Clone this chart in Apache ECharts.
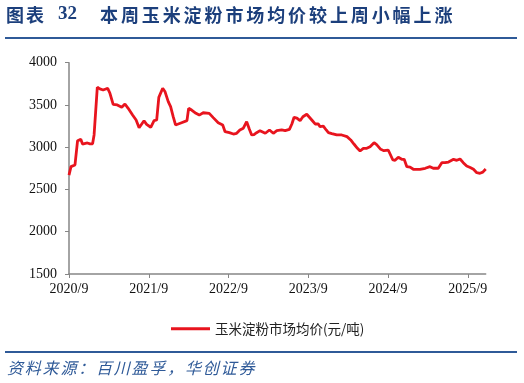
<!DOCTYPE html>
<html><head><meta charset="utf-8">
<script src="https://cdn.jsdelivr.net/npm/echarts@6/dist/echarts.min.js"></script>
<style>html,body{margin:0;padding:0;background:#fff}#c{width:524px;height:383px}</style>
</head><body><div id="c"></div>
<script>
const seriesName = '玉米淀粉市场均价(元/吨)';
const dates = [
'2020-09-01','2020-09-10','2020-09-28','2020-10-03','2020-10-10','2020-10-16','2020-10-25','2020-11-02','2020-11-24','2020-12-06',
'2020-12-18','2020-12-25','2021-01-09','2021-01-21','2021-02-05','2021-02-24','2021-03-06','2021-03-21','2021-04-09','2021-04-29',
'2021-05-14','2021-05-29','2021-06-18','2021-07-04','2021-07-18','2021-07-25','2021-08-10','2021-08-22','2021-09-10','2021-09-25',
'2021-10-07','2021-10-17','2021-10-25','2021-11-04','2021-11-14','2021-11-29','2021-12-10','2021-12-22','2022-01-02','2022-01-30',
'2022-02-22','2022-03-01','2022-03-15','2022-04-04','2022-04-19','2022-05-07','2022-06-04','2022-06-22','2022-07-15','2022-08-05',
'2022-08-16','2022-09-05','2022-09-23','2022-10-08','2022-10-23','2022-11-08','2022-11-23','2022-12-05','2022-12-16','2022-12-27',
'2023-01-08','2023-01-24','2023-02-16','2023-03-06','2023-03-24','2023-04-09','2023-05-01','2023-05-17','2023-06-06','2023-06-17',
'2023-06-27','2023-07-10','2023-07-25','2023-08-07','2023-08-25','2023-09-02','2023-09-17','2023-10-02','2023-10-17','2023-10-25',
'2023-11-09','2023-11-22','2023-12-02','2023-12-18','2024-01-10','2024-02-02','2024-02-25','2024-03-13','2024-03-28','2024-04-13',
'2024-04-25','2024-05-10','2024-05-26','2024-06-10','2024-06-28','2024-07-10','2024-07-29','2024-08-13','2024-09-02','2024-09-23',
'2024-10-03','2024-10-18','2024-11-03','2024-11-14','2024-11-26','2024-12-11','2024-12-26','2025-01-26','2025-02-18','2025-03-11',
'2025-03-26','2025-04-18','2025-05-04','2025-05-19','2025-06-04','2025-06-27','2025-07-12','2025-07-27','2025-08-11','2025-08-27',
'2025-09-12','2025-09-27','2025-10-12','2025-10-27','2025-11-09','2025-11-22'
];
const prices = [
2670,2770,2790,2810,3077,3065,3094,3038,3050,3040,
3040,3145,3709,3690,3677,3697,3638,3508,3500,3472,
3511,3460,3381,3322,3231,3235,3314,3270,3236,3314,
3322,3590,3580,3697,3660,3540,3480,3361,3263,3290,
3314,3460,3440,3401,3380,3408,3400,3350,3290,3263,
3184,3172,3156,3165,3204,3225,3302,3216,3145,3150,
3172,3196,3165,3204,3165,3196,3204,3196,3212,3275,
3354,3345,3314,3361,3390,3380,3322,3275,3275,3243,
3250,3204,3172,3160,3145,3145,3125,3086,3038,2987,
2955,2987,2987,3006,3054,3030,2975,2959,2967,2849,
2845,2881,2857,2857,2770,2765,2739,2739,2751,2770,
2751,2751,2817,2817,2825,2857,2845,2861,2817,2778,
2760,2739,2699,2692,2705,2743
];
const xTickLabels = ['2020/9','2021/9','2022/9','2023/9','2024/9','2025/9'];
const yTicks = [1500,2000,2500,3000,3500,4000];
const titleMain = '本周玉米淀粉市场均价较上周小幅上涨';
const sourceText = '资料来源：百川盈孚，华创证券';

function monthOffset(s){
  const [Y,M,D] = s.split('-').map(Number);
  const dim = new Date(Y, M, 0).getDate();
  return (Y-2020)*12 + (M-9) + (D-1)/dim;
}
const seriesData = dates.map((d,i)=>[monthOffset(d), prices[i]]);
const xTickVals = xTickLabels.map((_,i)=>i*12);

function spacedText(str, x0, top, advance, font, fill){
  return str.split('').map((ch,i)=>({type:'text', left:x0+i*advance, top:top, style:{text:ch, font:font, fill:fill}}));
}

const chart = echarts.init(document.getElementById('c'), null, {renderer:'canvas'});
const axisColor = '#868686';
const labelFont = {fontFamily:'Liberation Serif', fontSize:14, color:'#111'};
const titleColor = '#1C3F7C';
const blue = '#2F5A98';
chart.setOption({
  animation:false,
  backgroundColor:'#fff',
  grid:{left:69, right:38.3, top:62.7, bottom:109, containLabel:false},
  xAxis:{
    type:'value', min:0, max:seriesData[seriesData.length-1][0],
    axisLine:{show:true, lineStyle:{color:axisColor, width:1.5}},
    axisTick:{show:true, length:4, lineStyle:{color:axisColor}, customValues:xTickVals},
    axisLabel:Object.assign({margin:8, customValues:xTickVals, formatter:v=>xTickLabels[Math.round(v/12)]||''}, labelFont),
    splitLine:{show:false}
  },
  yAxis:{
    type:'value', min:yTicks[0], max:yTicks[yTicks.length-1], interval:500,
    axisLine:{show:true, lineStyle:{color:axisColor, width:1.5}},
    axisTick:{show:true, length:4, lineStyle:{color:axisColor}},
    axisLabel:Object.assign({margin:12, formatter:v=>String(v)}, labelFont),
    splitLine:{show:false}
  },
  legend:{
    data:[seriesName], left:166, top:317, icon:'rect', itemWidth:39, itemHeight:3, itemGap:10,
    textStyle:{fontFamily:'Noto Sans CJK SC', fontSize:13.5, color:'#222'}
  },
  series:[{
    name:seriesName, type:'line', data:seriesData, showSymbol:false, symbol:'none',
    lineStyle:{color:'#E8141E', width:2.8}, itemStyle:{color:'#E8141E'}
  }],
  graphic:[].concat(
    spacedText('图表', 6, 6, 20, 'bold 18px "Noto Sans CJK SC"', titleColor),
    [{type:'text', left:58, top:5, style:{text:'32', font:'bold 19px "Liberation Serif"', fill:titleColor}}],
    spacedText(titleMain, 100, 6, 20.9, 'bold 18px "Noto Sans CJK SC"', titleColor),
    [{type:'rect', shape:{x:5, y:37, width:512, height:2}, style:{fill:blue}},
     {type:'rect', shape:{x:5, y:351, width:512, height:2}, style:{fill:blue}}],
    spacedText(sourceText, 7, 360, 17.8, 'italic 16px "Noto Sans CJK SC"', blue)
  )
});
</script></body></html>
